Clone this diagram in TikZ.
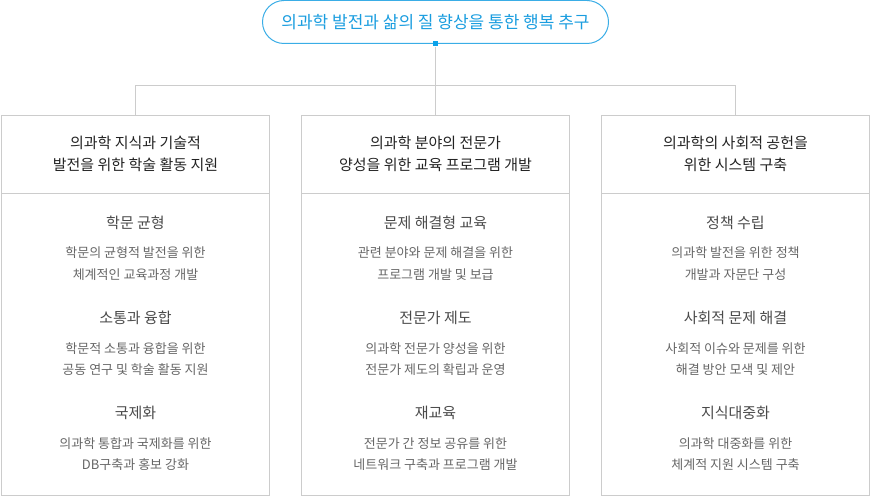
\documentclass[tikz,border=0pt]{standalone}
\usepackage{fontspec}
\setmainfont{Noto Sans CJK KR}
\definecolor{lineg}{HTML}{CCCCCC}
\definecolor{pillb}{HTML}{3AADE6}
\definecolor{topblue}{HTML}{1A9DDF}
\definecolor{sqblue}{HTML}{0AA2EA}
\definecolor{headc}{HTML}{222222}
\definecolor{subc}{HTML}{4A4A4A}
\definecolor{descc}{HTML}{666666}
\begin{document}
\begin{tikzpicture}[x=1pt,y=-1pt,
  pill/.style={draw=pillb,line width=1pt,rounded corners=21.5pt,minimum width=346pt,minimum height=43pt,inner sep=0pt},
  sqnode/.style={fill=sqblue,minimum size=5pt,inner sep=0pt},
  conn/.style={draw=lineg,line width=1pt},
  colbox/.style={draw=lineg,line width=1pt,minimum width=268pt,minimum height=380pt,inner sep=0pt},
  toptext/.style={anchor=base,inner sep=0pt,text=topblue,font=\fontsize{17}{20}\selectfont},
  headtext/.style={anchor=base,inner sep=0pt,text=headc,font=\fontsize{15}{18}\selectfont},
  subtext/.style={anchor=base,inner sep=0pt,text=subc,font=\fontsize{15}{18}\selectfont},
  desctext/.style={anchor=base,inner sep=0pt,text=descc,font=\fontsize{13}{16}\selectfont}]
\useasboundingbox (0,0) rectangle (870,497);
% top
\node[pill] (top) at (435.5,22) {};
\node[toptext] (toptxt) at (435.5,28.6) {의과학 발전과 삶의 질 향상을 통한 행복 추구};
% boxes
\node[colbox] (b1) at (135.5,305.5) {};
\node[colbox] (b2) at (435.5,305.5) {};
\node[colbox] (b3) at (735.5,305.5) {};
% connectors
\node[sqnode] (sq) at (435.5,44) {};
\coordinate (j) at (435.5,85.5);
\draw[conn] (sq) -- (j);
\draw[conn] (b1.north) |- (j) -| (b3.north);
\draw[conn] (j) -- (b2.north);
% dividers
\foreach \b in {b1,b2,b3}{
  \draw[conn] ([yshift=-79pt]\b.north west) -- ([yshift=-79pt]\b.north east);
}
% column 1
\node[headtext] (h1a) at (135.5,148.6) {의과학 지식과 기술적};
\node[headtext] (h1b) at (135.5,170.6) {발전을 위한 학술 활동 지원};
\node[subtext] (s1a) at (135.5,228.6) {학문 균형};
\node[desctext] (d1a1) at (135.5,258) {학문의 균형적 발전을 위한};
\node[desctext] (d1a2) at (135.5,279) {체계적인 교육과정 개발};
\node[subtext] (s1b) at (135.5,323.6) {소통과 융합};
\node[desctext] (d1b1) at (135.5,353) {학문적 소통과 융합을 위한};
\node[desctext] (d1b2) at (135.5,374) {공동 연구 및 학술 활동 지원};
\node[subtext] (s1c) at (135.5,418.6) {국제화};
\node[desctext] (d1c1) at (135.5,448) {의과학 통합과 국제화를 위한};
\node[desctext] (d1c2) at (135.5,469) {DB구축과 홍보 강화};
% column 2
\node[headtext] (h2a) at (435.5,148.6) {의과학 분야의 전문가};
\node[headtext] (h2b) at (435.5,170.6) {양성을 위한 교육 프로그램 개발};
\node[subtext] (s2a) at (435.5,228.6) {문제 해결형 교육};
\node[desctext] (d2a1) at (435.5,258) {관련 분야와 문제 해결을 위한};
\node[desctext] (d2a2) at (435.5,279) {프로그램 개발 및 보급};
\node[subtext] (s2b) at (435.5,323.6) {전문가 제도};
\node[desctext] (d2b1) at (435.5,353) {의과학 전문가 양성을 위한};
\node[desctext] (d2b2) at (435.5,374) {전문가 제도의 확립과 운영};
\node[subtext] (s2c) at (435.5,418.6) {재교육};
\node[desctext] (d2c1) at (435.5,448) {전문가 간 정보 공유를 위한};
\node[desctext] (d2c2) at (435.5,469) {네트워크 구축과 프로그램 개발};
% column 3
\node[headtext] (h3a) at (735.5,148.6) {의과학의 사회적 공헌을};
\node[headtext] (h3b) at (735.5,170.6) {위한 시스템 구축};
\node[subtext] (s3a) at (735.5,228.6) {정책 수립};
\node[desctext] (d3a1) at (735.5,258) {의과학 발전을 위한 정책};
\node[desctext] (d3a2) at (735.5,279) {개발과 자문단 구성};
\node[subtext] (s3b) at (735.5,323.6) {사회적 문제 해결};
\node[desctext] (d3b1) at (735.5,353) {사회적 이슈와 문제를 위한};
\node[desctext] (d3b2) at (735.5,374) {해결 방안 모색 및 제안};
\node[subtext] (s3c) at (735.5,418.6) {지식대중화};
\node[desctext] (d3c1) at (735.5,448) {의과학 대중화를 위한};
\node[desctext] (d3c2) at (735.5,469) {체계적 지원 시스템 구축};
\end{tikzpicture}
\end{document}
